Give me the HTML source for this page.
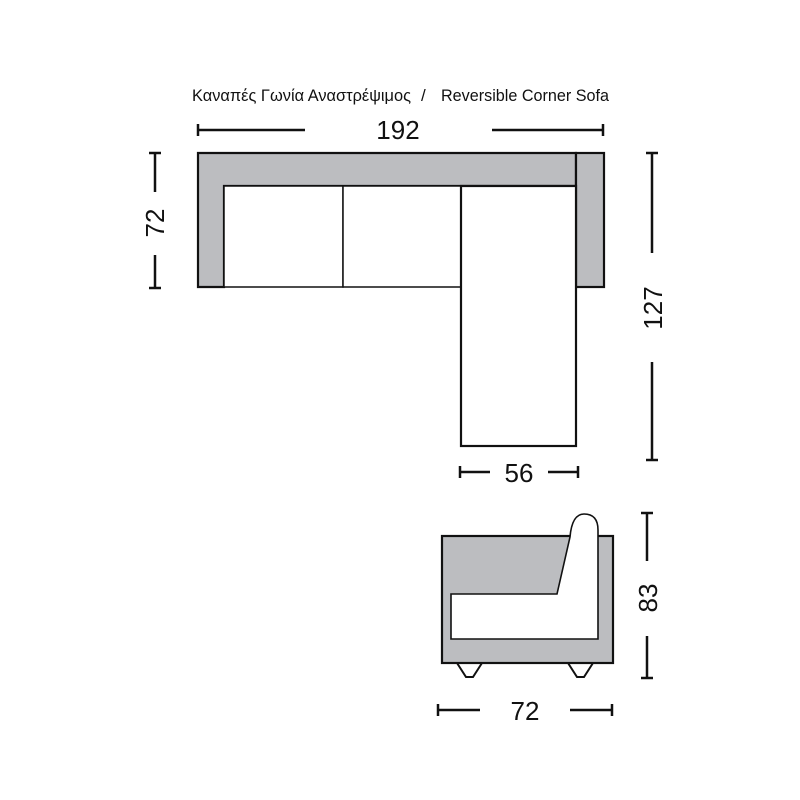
<!DOCTYPE html>
<html><head><meta charset="utf-8"><style>html,body{margin:0;padding:0;background:#fff}svg{display:block}</style></head>
<body>
<svg width="800" height="800" viewBox="0 0 800 800" xmlns="http://www.w3.org/2000/svg" font-family="Liberation Sans, sans-serif">
<text x="192" y="101" font-size="17" textLength="219" lengthAdjust="spacingAndGlyphs" fill="#111">Καναπές Γωνία Αναστρέψιμος</text>
<text x="421" y="101" font-size="17" fill="#111">/</text>
<text x="441" y="101" font-size="17" textLength="168" lengthAdjust="spacingAndGlyphs" fill="#111">Reversible Corner Sofa</text>
<g stroke="#111" stroke-width="2.5" fill="none">
<line x1="198" y1="130" x2="305" y2="130"/><line x1="198" y1="124" x2="198" y2="136"/>
<line x1="492" y1="130" x2="603" y2="130"/><line x1="603" y1="124" x2="603" y2="136"/>
<line x1="155" y1="153" x2="155" y2="192"/><line x1="149" y1="153" x2="161" y2="153"/>
<line x1="155" y1="255" x2="155" y2="288"/><line x1="149" y1="288" x2="161" y2="288"/>
<line x1="652" y1="153" x2="652" y2="253"/><line x1="646" y1="153" x2="658" y2="153"/>
<line x1="652" y1="362" x2="652" y2="460"/><line x1="646" y1="460" x2="658" y2="460"/>
<line x1="460" y1="472" x2="490" y2="472"/><line x1="460" y1="466" x2="460" y2="478"/>
<line x1="548" y1="472" x2="578" y2="472"/><line x1="578" y1="466" x2="578" y2="478"/>
<line x1="647" y1="513" x2="647" y2="561"/><line x1="641" y1="513" x2="653" y2="513"/>
<line x1="647" y1="636" x2="647" y2="678"/><line x1="641" y1="678" x2="653" y2="678"/>
<line x1="438" y1="710" x2="480" y2="710"/><line x1="438" y1="704" x2="438" y2="716"/>
<line x1="570" y1="710" x2="612" y2="710"/><line x1="612" y1="704" x2="612" y2="716"/>
</g>
<g font-size="26" fill="#111" text-anchor="middle">
<text x="398" y="139">192</text>
<text x="519" y="482">56</text>
<text x="525" y="720">72</text>
<text transform="translate(164,223) rotate(-90)">72</text>
<text transform="translate(662,308) rotate(-90)">127</text>
<text transform="translate(657,598) rotate(-90)">83</text>
</g>
<g stroke="#111" stroke-width="2.2">
<path d="M198,153 H576 V186 H224 V287 H198 Z" fill="#bcbdc0"/>
<rect x="576" y="153" width="28" height="134" fill="#bcbdc0"/>
<rect x="224" y="186" width="119" height="101" fill="#fff" stroke-width="1.5"/>
<rect x="343" y="186" width="118" height="101" fill="#fff" stroke-width="1.5"/>
<rect x="461" y="186" width="115" height="260" fill="#fff"/>
</g>
<g stroke="#111" stroke-width="2.2">
<path d="M457,663 L466,677 L473,677 L482,663" fill="#fff" stroke-width="2"/>
<path d="M568,663 L577,677 L584,677 L593,663" fill="#fff" stroke-width="2"/>
<rect x="442" y="536" width="171" height="127" fill="#bcbdc0"/>
<path d="M451,594 H557 L570,537 Q572,514 584,514 Q598,514 598,530 V639 H451 Z" fill="#fff" stroke-width="1.6"/>
</g>
</svg>
</body></html>
